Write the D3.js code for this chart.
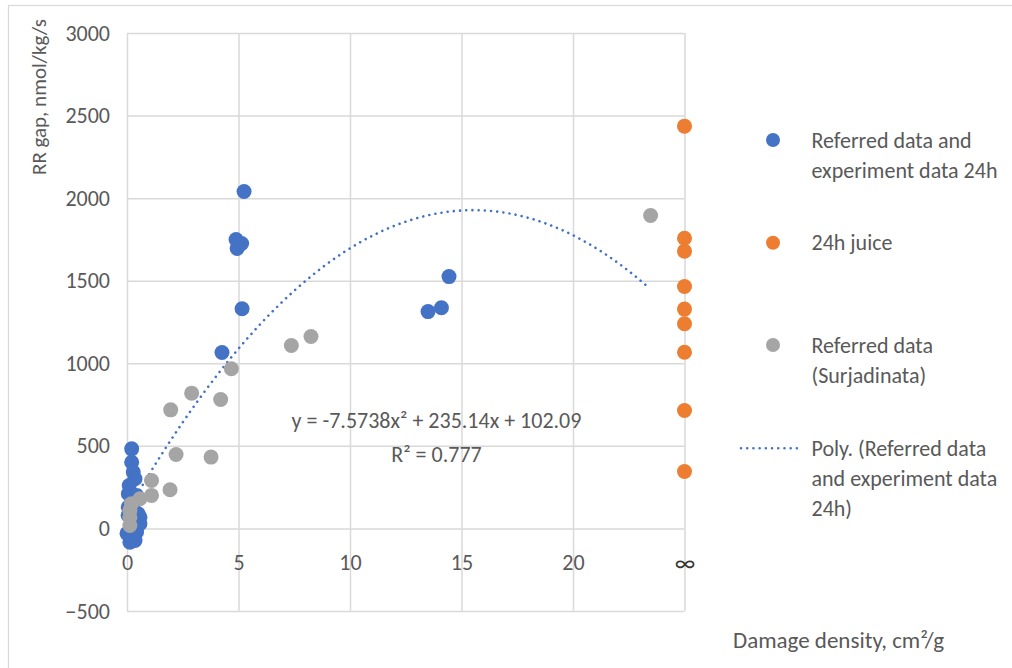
<!DOCTYPE html>
<html>
<head>
<meta charset="utf-8">
<script src="https://cdn.jsdelivr.net/npm/d3@7"></script>
<style>
  body { margin: 0; background: #fff; }
  svg text { font-family: Carlito, Calibri, Lato, sans-serif; fill: #595959; }
</style>
</head>
<body>
<svg id="chart" width="1012" height="668"></svg>
<script>
// Damage density (cm²/g) vs RR gap (nmol/kg/s)
const expX = [5.25, 4.89, 5.14, 4.94, 5.16, 4.26, 14.44, 13.5, 14.1,
              0.21, 0.21, 0.28, 0.36, 0.10, 0.06, 0.43, 0.50, 0.58, 0.43, 0.13, 0.36, 0.00, 0.06, 0.28, 0.58,
              0.15, 0.35, 0.25, 0.45, 0.20, 0.05];
const expY = [2040, 1749, 1725, 1695, 1330, 1065, 1525, 1313, 1336,
              482, 401, 341, 301, 260, 210, 200, 89, 28, -22, -83, -73, -30, 129, 170, 68,
              140, 100, 40, 10, -45, 80];

// juice samples at infinite damage density
const juiceY = [2436, 1757, 1679, 1465, 1328, 1239, 1067, 714, 345];

const surjX = [23.48, 8.25, 7.37, 4.68, 2.90, 4.20, 1.96, 2.20, 3.77, 1.93, 1.10, 1.10, 0.58, 0.20, 0.13, 0.13, 0.13];
const surjY = [1895, 1162, 1108, 967, 819, 781, 718, 448, 432, 234, 290, 200, 180, 150, 109, 68, 18];

// polynomial trendline y = a x² + b x + c
const polyCoef = [-7.5738, 235.14, 102.09];
const polyRange = [0, 23.45];
const r2 = 0.777;

const xTicks = [0, 5, 10, 15, 20, 25];
const xTickLabels = ["0", "5", "10", "15", "20", "∞"];
const yTicks = [-500, 0, 500, 1000, 1500, 2000, 2500, 3000];

const legendLabels = [
  ["Referred data and", "experiment data 24h"],
  ["24h juice"],
  ["Referred data", "(Surjadinata)"],
  ["Poly. (Referred data", "and experiment data", "24h)"]
];

const colors = { exp: "#4472C4", juice: "#ED7D31", surj: "#A5A5A5", grid: "#D9D9D9" };
const FS = 22;

const svg = d3.select("#chart");
const W = 1012, H = 668;
const plot = { left: 127, right: 684.5, top: 33, bottom: 611 };

// outer frame
svg.append("rect").attr("x", 8.5).attr("y", 5.5).attr("width", W).attr("height", H)
  .attr("fill", "none").attr("stroke", colors.grid).attr("stroke-width", 1.2);

const x = d3.scaleLinear().domain([0, 25]).range([plot.left, plot.right]);
const y = d3.scaleLinear().domain([-500, 3000]).range([plot.bottom, plot.top]);

// gridlines
const gx = svg.append("g").attr("transform", `translate(0,${plot.bottom})`)
  .call(d3.axisBottom(x).tickValues(xTicks).tickSize(-(plot.bottom - plot.top)).tickFormat(""));
const gy = svg.append("g").attr("transform", `translate(${plot.left},0)`)
  .call(d3.axisLeft(y).tickValues(yTicks).tickSize(-(plot.right - plot.left)).tickFormat(""));
[gx, gy].forEach(g => {
  g.select(".domain").remove();
  g.selectAll("line").attr("stroke", colors.grid).attr("stroke-width", 1.5);
});

// y tick labels
const ay = svg.append("g").attr("transform", `translate(${plot.left},0)`)
  .call(d3.axisLeft(y).tickValues(yTicks).tickSize(0).tickPadding(17).tickFormat(d3.format("d")));
ay.select(".domain").remove();
ay.selectAll("text").attr("font-size", FS).style("font-family", null);

// x tick labels, below the zero line
const ax = svg.append("g").attr("transform", `translate(0,${y(0)})`)
  .call(d3.axisBottom(x).tickValues(xTicks).tickSize(0).tickPadding(26)
    .tickFormat((d, i) => xTickLabels[i]));
ax.select(".domain").remove();
ax.selectAll("text").attr("font-size", FS).style("font-family", null);
ax.selectAll("text").filter(d => d === 25).style("fill", "#333").attr("font-size", FS + 2);

// trendline
const poly = v => polyCoef[0] * v * v + polyCoef[1] * v + polyCoef[2];
const trendXs = d3.range(polyRange[0], polyRange[1], 0.05).concat([polyRange[1]]);
svg.append("path")
  .datum(trendXs)
  .attr("d", d3.line().x(d => x(d)).y(d => y(poly(d))))
  .attr("fill", "none").attr("stroke", colors.exp).attr("stroke-width", 2.6)
  .attr("stroke-linecap", "round").attr("stroke-dasharray", "0.01 6.2");

// markers: experiment series first, then juice, then Surjadinata on top
const R = 7.5;
svg.append("g").selectAll("circle").data(expX.map((v, i) => [v, expY[i]]))
  .join("circle").attr("cx", d => x(d[0])).attr("cy", d => y(d[1])).attr("r", R)
  .attr("fill", colors.exp);
svg.append("g").selectAll("circle").data(juiceY)
  .join("circle").attr("cx", x(xTicks[xTicks.length - 1])).attr("cy", d => y(d)).attr("r", R)
  .attr("fill", colors.juice);
svg.append("g").selectAll("circle").data(surjX.map((v, i) => [v, surjY[i]]))
  .join("circle").attr("cx", d => x(d[0])).attr("cy", d => y(d[1])).attr("r", R)
  .attr("fill", colors.surj);

// equation label
const eq = svg.append("g").attr("font-size", FS).attr("text-anchor", "middle");
eq.append("text").attr("x", 436.5).attr("y", 428)
  .text(`y = ${polyCoef[0]}x² + ${polyCoef[1]}x + ${polyCoef[2]}`);
eq.append("text").attr("x", 436.5).attr("y", 462).text(`R² = ${r2}`);

// axis titles
svg.append("text").attr("transform", "translate(46,97) rotate(-90)")
  .attr("text-anchor", "middle").attr("font-size", FS - 1).text("RR gap, nmol/kg/s");
svg.append("text").attr("x", 733).attr("y", 648)
  .attr("font-size", FS + 1).text("Damage density, cm²/g");

// legend
const leg = svg.append("g");
const legY = [140, 242.7, 345, 448.3];
const legColors = [colors.exp, colors.juice, colors.surj];
legY.forEach((ly, i) => {
  if (i < 3) {
    leg.append("circle").attr("cx", 773).attr("cy", ly).attr("r", 7).attr("fill", legColors[i]);
  } else {
    leg.append("line").attr("x1", 741).attr("x2", 800).attr("y1", ly).attr("y2", ly)
      .attr("stroke", colors.exp).attr("stroke-width", 2.6)
      .attr("stroke-linecap", "round").attr("stroke-dasharray", "0.01 6.2");
  }
  const t = leg.append("text").attr("x", 811.5).attr("y", ly).attr("font-size", FS);
  legendLabels[i].forEach((s, j) => {
    t.append("tspan").attr("x", 811.5).attr("dy", j === 0 ? "0.35em" : 30).text(s);
  });
});
</script>
</body>
</html>
